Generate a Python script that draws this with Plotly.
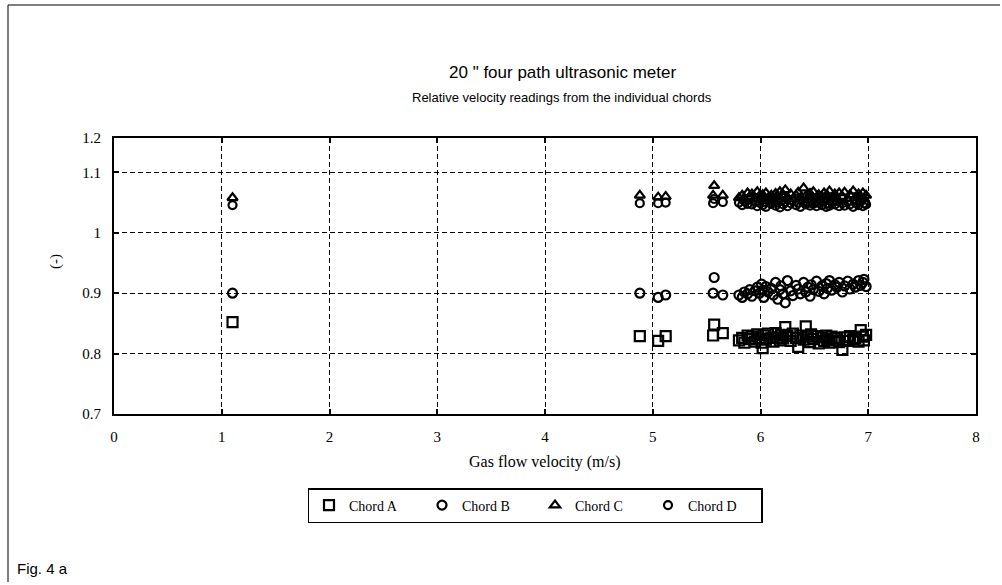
import plotly.graph_objects as go

# Gas flow velocity (m/s) for each run (shared by all four chords)
velocity = [1.10, 4.88, 5.05, 5.12, 5.56, 5.57, 5.65,
            5.80, 5.83, 5.85, 5.88, 5.90, 5.92, 5.95, 5.97, 5.99, 6.01,
            6.02, 6.03, 6.05, 6.07, 6.10, 6.12, 6.14, 6.16, 6.18, 6.19,
            6.21, 6.23, 6.25, 6.28, 6.30, 6.33, 6.35, 6.37, 6.40, 6.42,
            6.44, 6.46, 6.47, 6.49, 6.52, 6.54, 6.57, 6.59, 6.61, 6.62,
            6.64, 6.66, 6.69, 6.71, 6.73, 6.76, 6.78, 6.81, 6.83, 6.86,
            6.88, 6.91, 6.93, 6.95, 6.96, 6.98]

chord_a = [0.852, 0.829, 0.821, 0.829, 0.830, 0.848, 0.834,
           0.822, 0.826, 0.818, 0.830, 0.824, 0.828, 0.820, 0.832, 0.825, 0.818,
           0.809, 0.830, 0.823, 0.833, 0.826, 0.820, 0.834, 0.827, 0.822, 0.831,
           0.825, 0.844, 0.829, 0.821, 0.833, 0.826, 0.811, 0.830, 0.823, 0.845,
           0.828, 0.819, 0.832, 0.824, 0.829, 0.817, 0.827, 0.821, 0.830, 0.824,
           0.818, 0.828, 0.822, 0.826, 0.819, 0.806, 0.827, 0.821, 0.829, 0.823,
           0.826, 0.820, 0.839, 0.828, 0.822, 0.831]

chord_b = [0.900, 0.900, 0.893, 0.897, 0.900, 0.926, 0.897,
           0.897, 0.893, 0.902, 0.899, 0.906, 0.895, 0.904, 0.910, 0.900, 0.915,
           0.905, 0.893, 0.911, 0.902, 0.908, 0.897, 0.918, 0.890, 0.906, 0.912,
           0.899, 0.884, 0.921, 0.904, 0.896, 0.913, 0.907, 0.899, 0.918, 0.902,
           0.910, 0.895, 0.914, 0.906, 0.920, 0.903, 0.912, 0.899, 0.916, 0.908,
           0.921, 0.905, 0.914, 0.910, 0.918, 0.902, 0.912, 0.920, 0.907, 0.915,
           0.910, 0.921, 0.913, 0.918, 0.923, 0.911]

chord_c = [1.058, 1.062, 1.059, 1.060, 1.062, 1.078, 1.062,
           1.058, 1.062, 1.055, 1.066, 1.060, 1.064, 1.057, 1.068, 1.061, 1.055,
           1.063, 1.059, 1.066, 1.057, 1.062, 1.054, 1.065, 1.060, 1.068, 1.056,
           1.063, 1.071, 1.059, 1.064, 1.056, 1.062, 1.067, 1.058, 1.074, 1.061,
           1.055, 1.065, 1.059, 1.068, 1.057, 1.063, 1.060, 1.066, 1.055, 1.062,
           1.069, 1.058, 1.064, 1.057, 1.066, 1.060, 1.067, 1.056, 1.063, 1.069,
           1.058, 1.064, 1.060, 1.066, 1.056, 1.062]

chord_d = [1.046, 1.049, 1.049, 1.050, 1.049, 1.056, 1.051,
           1.050, 1.046, 1.053, 1.048, 1.055, 1.047, 1.052, 1.044, 1.050, 1.056,
           1.046, 1.051, 1.043, 1.054, 1.048, 1.052, 1.045, 1.050, 1.042, 1.053,
           1.047, 1.051, 1.044, 1.049, 1.054, 1.046, 1.050, 1.043, 1.052, 1.047,
           1.051, 1.045, 1.053, 1.048, 1.044, 1.050, 1.046, 1.052, 1.043, 1.049,
           1.045, 1.051, 1.047, 1.053, 1.044, 1.049, 1.045, 1.052, 1.047, 1.043,
           1.050, 1.046, 1.052, 1.044, 1.049, 1.047]

series_names = ["Chord A", "Chord B", "Chord C", "Chord D"]
x_ticks = [0, 1, 2, 3, 4, 5, 6, 7, 8]
y_tick_vals = [0.7, 0.8, 0.9, 1.0, 1.1, 1.157]
y_tick_text = ["0.7", "0.8", "0.9", "1", "1.1", "1.2"]

W, H = 1002, 585
L, R, T, B = 114, 976, 138, 414  # plot area in pixels


def px(xp):
    return (xp - L) / (R - L)


def py(yp):
    return (B - yp) / (B - T)


serif = "Liberation Serif"
sans = "Liberation Sans"

fig = go.Figure()
symbols = ["square-open", "circle-open", "triangle-up-open", "circle-open"]
sizes = [10, 9, 9, 8]
for name, ys, sym, sz in zip(series_names, [chord_a, chord_b, chord_c, chord_d], symbols, sizes):
    fig.add_trace(go.Scatter(
        x=velocity, y=ys, mode="markers", name=name,
        marker=dict(symbol=sym, size=sz, color="black", line=dict(color="black", width=2.2)),
    ))

axis_common = dict(
    showline=True, linecolor="black", linewidth=2, mirror="ticks",
    ticks="inside", ticklen=5, tickcolor="black", tickwidth=1.5,
    showgrid=True, gridcolor="black", gridwidth=1, griddash="5px,3px",
    zeroline=False, tickfont=dict(family=serif, size=15, color="black"),
    ticklabelstandoff=8,
)

fig.update_xaxes(range=[0, 8], tickvals=x_ticks, **axis_common)
fig.update_yaxes(range=[0.7, 1.157], tickvals=y_tick_vals, ticktext=y_tick_text, **axis_common)

annotations = [
    dict(text="20 \" four path ultrasonic meter", x=px(562), y=py(72), xref="paper", yref="paper",
         showarrow=False, font=dict(family=sans, size=17, color="black"), xanchor="center", yanchor="middle"),
    dict(text="Relative velocity readings from the individual chords", x=px(562), y=py(97), xref="paper",
         yref="paper", showarrow=False, font=dict(family=sans, size=13, color="black"),
         xanchor="center", yanchor="middle"),
    dict(text="Gas flow velocity (m/s)", x=px(545), y=py(462), xref="paper", yref="paper",
         showarrow=False, font=dict(family=serif, size=16, color="black"), xanchor="center", yanchor="middle"),
    dict(text="(-)", x=px(55), y=py(262), xref="paper", yref="paper", textangle=-90,
         showarrow=False, font=dict(family=serif, size=15, color="black"), xanchor="center", yanchor="middle"),
    dict(text="Fig. 4 a", x=px(15), y=py(568), xref="paper", yref="paper",
         showarrow=False, font=dict(family=sans, size=15, color="black"), xanchor="left", yanchor="middle"),
]

shapes = [
    dict(type="line", xref="paper", yref="paper", x0=px(8), x1=px(8), y0=py(5), y1=py(582),
         line=dict(color="black", width=1)),
    dict(type="line", xref="paper", yref="paper", x0=px(8), x1=px(1000), y0=py(5), y1=py(5),
         line=dict(color="black", width=1)),
]

fig.update_layout(
    width=W, height=H,
    margin=dict(l=L, r=W - R, t=T, b=H - B, pad=0),
    paper_bgcolor="white", plot_bgcolor="white",
    showlegend=True,
    legend=dict(orientation="h", x=px(535), y=py(488), xanchor="center", yanchor="top",
                bordercolor="black", borderwidth=1.5, bgcolor="white",
                font=dict(family=serif, size=14, color="black"),
                entrywidth=68, entrywidthmode="pixels", itemsizing="trace",
                tracegroupgap=0, itemwidth=30),
    annotations=annotations, shapes=shapes,
)

fig.write_html("out.html", config={"displayModeBar": False})

# remove the default page margin so the figure sits at the window origin
with open("out.html", "r", encoding="utf-8") as f:
    html = f.read()
html = html.replace("<head>", "<head><style>html,body{margin:0;padding:0;overflow:hidden;}</style>", 1)
with open("out.html", "w", encoding="utf-8") as f:
    f.write(html)
